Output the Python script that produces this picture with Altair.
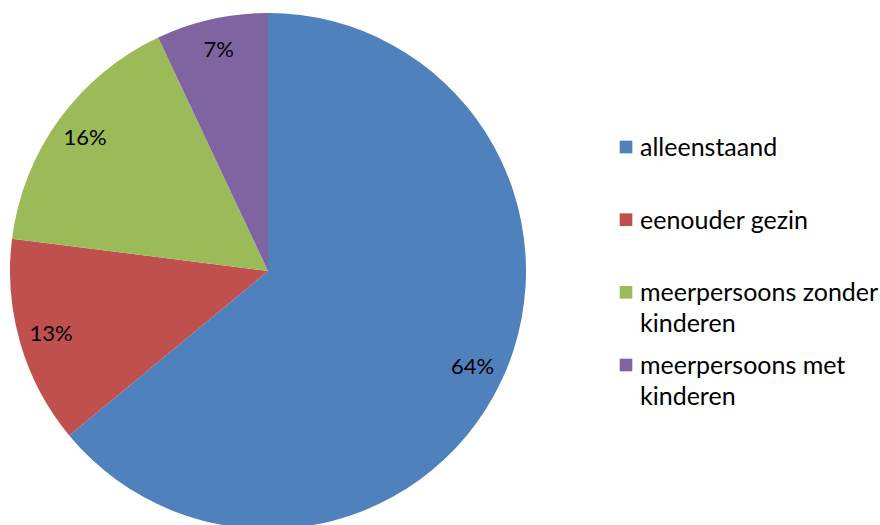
import altair as alt
import pandas as pd

categories = ["alleenstaand", "eenouder gezin", "meerpersoons zonder kinderen", "meerpersoons met kinderen"]
legend_lines = [["alleenstaand"], ["eenouder gezin"], ["meerpersoons zonder", "kinderen"], ["meerpersoons met", "kinderen"]]
values = [64, 13, 16, 7]
labels = ["64%", "13%", "16%", "7%"]
colors = ["#4F81BD", "#C0504D", "#9BBB59", "#8064A2"]

df = pd.DataFrame({
    "cat": categories,
    "value": values,
    "label": labels,
    "order": list(range(len(categories))),
    "lines": legend_lines,
})

color = alt.Color("cat:N", scale=alt.Scale(domain=categories, range=colors), legend=None)

base = alt.Chart(df).encode(
    theta=alt.Theta("value:Q", stack=True),
    order=alt.Order("order:Q"),
)

pie = base.mark_arc(outerRadius=258).encode(
    color=color,
    x=alt.value(268),
    y=alt.value(271),
)

text = base.mark_text(font="Lato", fontSize=22, color="#000000", baseline="middle", align="center").encode(
    text="label:N",
    radius=alt.value(226),
    x=alt.value(268),
    y=alt.value(271),
)

ypos = alt.Y("cat:N", scale=alt.Scale(type="point", domain=categories, range=[147, 365], padding=0), axis=None)

leg_sym = alt.Chart(df).mark_square(size=160, opacity=1).encode(
    x=alt.value(626),
    y=ypos,
    color=color,
)

leg_txt = alt.Chart(df).mark_text(font="Lato", fontSize=25, color="#000000", align="left",
                                  baseline="alphabetic", dy=9, lineHeight=31).encode(
    x=alt.value(640),
    y=ypos,
    text="lines",
)

chart = alt.layer(pie, text, leg_sym, leg_txt).properties(
    width=880, height=525, autosize=alt.AutoSizeParams(type="none"), padding=0
).configure_view(stroke=None)

chart.save("out.html", embed_options={"renderer": "svg", "actions": False})
